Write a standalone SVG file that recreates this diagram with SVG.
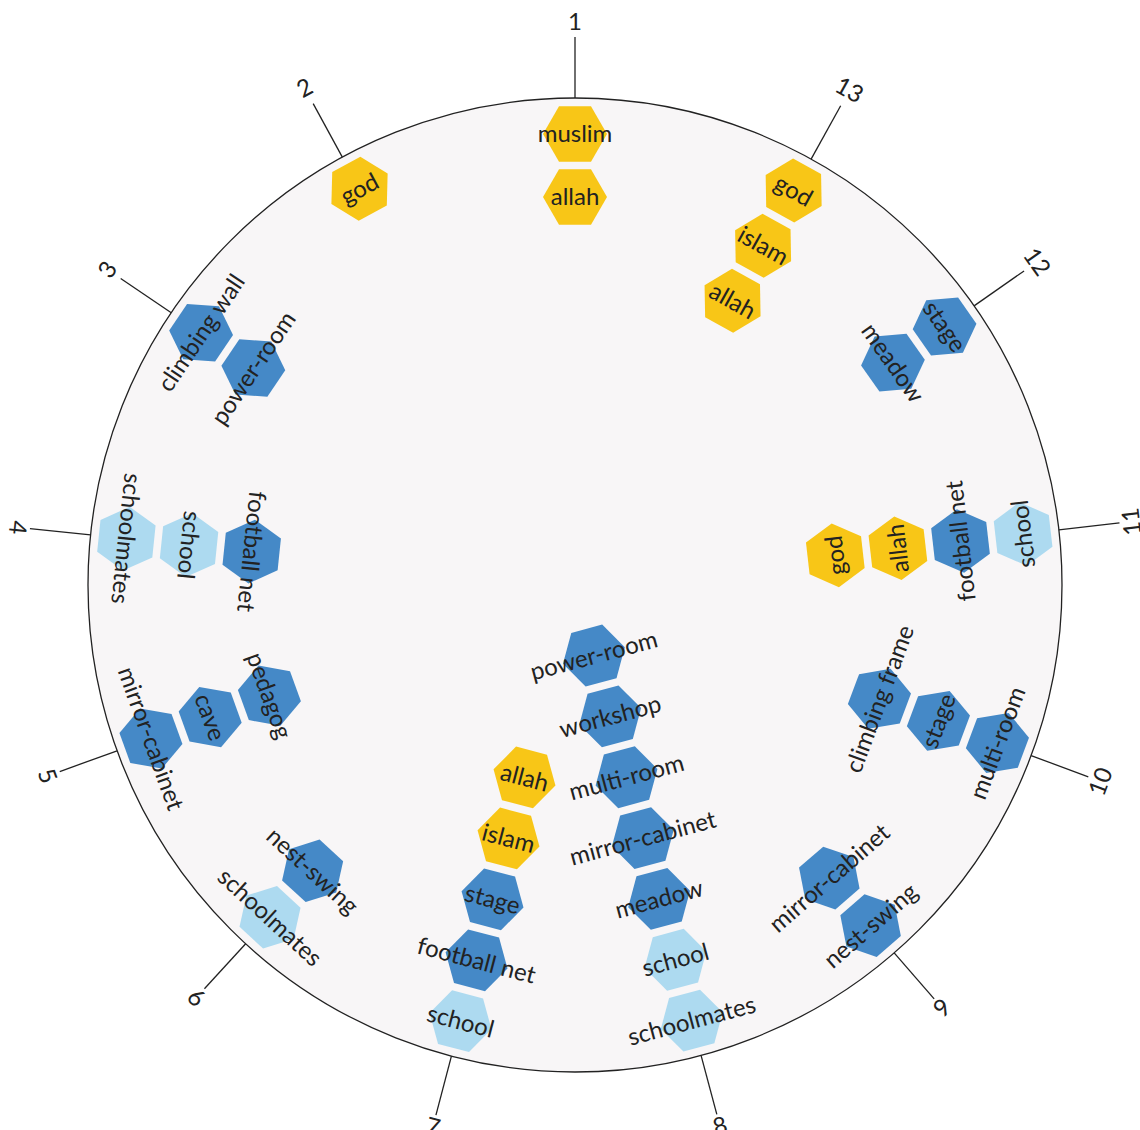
<svg xmlns="http://www.w3.org/2000/svg" width="1140" height="1130" viewBox="0 0 1140 1130">
<defs>
<polygon id="hex" points="32,0 16,27.71 -16,27.71 -32,0 -16,-27.71 16,-27.71"/>
</defs>
<style>
.g{fill:#F8C617}.b{fill:#4589C7}.lb{fill:#ADDAF0}
text{font-family:Lato,"Open Sans","Liberation Sans",sans-serif;font-size:24px;fill:#222;text-anchor:middle}
.lbl{font-size:24px}
.tick{stroke:#222;stroke-width:1.3}
</style>
<rect width="1140" height="1130" fill="#fff"/>
<circle id="ring" cx="575" cy="585" r="487" fill="#F8F6F7" stroke="#222" stroke-width="1.3"/>

<g id="ticks">
<g transform="rotate(0 575 585)"><line class="tick" x1="575" y1="98" x2="575" y2="37"/><text class="lbl" x="575" y="22" dy="0.35em">1</text></g>
<g transform="rotate(-28.54 575 585)"><line class="tick" x1="575" y1="98" x2="575" y2="37"/><text class="lbl" x="575" y="19" dy="0.35em">2</text></g>
<g transform="rotate(-56 575 585)"><line class="tick" x1="575" y1="98" x2="575" y2="37"/><text class="lbl" x="575" y="21" dy="0.35em">3</text></g>
<g transform="rotate(-84.1 575 585)"><line class="tick" x1="575" y1="98" x2="575" y2="37"/><text class="lbl" x="575" y="25" dy="0.35em" transform="rotate(180 575 25)">4</text></g>
<g transform="rotate(-109.9 575 585)"><line class="tick" x1="575" y1="98" x2="575" y2="37"/><text class="lbl" x="575" y="24" dy="0.35em" transform="rotate(180 575 24)">5</text></g>
<g transform="rotate(-137.45 575 585)"><line class="tick" x1="575" y1="98" x2="575" y2="37"/><text class="lbl" x="575" y="25" dy="0.35em" transform="rotate(180 575 25)">6</text></g>
<g transform="rotate(-165.3 575 585)"><line class="tick" x1="575" y1="98" x2="575" y2="37"/><text class="lbl" x="575" y="25" dy="0.35em" transform="rotate(180 575 25)">7</text></g>
<g transform="rotate(-195 575 585)"><line class="tick" x1="575" y1="98" x2="575" y2="37"/><text class="lbl" x="575" y="25" dy="0.35em" transform="rotate(180 575 25)">8</text></g>
<g transform="rotate(-220.95 575 585)"><line class="tick" x1="575" y1="98" x2="575" y2="37"/><text class="lbl" x="575" y="25" dy="0.35em" transform="rotate(180 575 25)">9</text></g>
<g transform="rotate(-249.5 575 585)"><line class="tick" x1="575" y1="98" x2="575" y2="37"/><text class="lbl" x="575" y="24" dy="0.35em" transform="rotate(180 575 24)">10</text></g>
<g transform="rotate(-276.5 575 585)"><line class="tick" x1="575" y1="98" x2="575" y2="37"/><text class="lbl" x="575" y="25" dy="0.35em" transform="rotate(180 575 25)">11</text></g>
<g transform="rotate(-304.97 575 585)"><line class="tick" x1="575" y1="98" x2="575" y2="37"/><text class="lbl" x="575" y="21" dy="0.35em">12</text></g>
<g transform="rotate(-331 575 585)"><line class="tick" x1="575" y1="98" x2="575" y2="37"/><text class="lbl" x="575" y="19" dy="0.35em">13</text></g>
</g>

<g id="connectors"></g>

<!-- sector 1 -->
<g id="s1-muslim" transform="rotate(0 575 585) translate(575 134)"><use href="#hex" class="g"/><text dy="0.35em">muslim</text></g>
<g id="s1-allah" transform="rotate(0 575 585) translate(575 197)"><use href="#hex" class="g"/><text dy="0.35em">allah</text></g>
<!-- sector 2 -->
<g id="s2-god" transform="rotate(-28.54 575 585) translate(575 134)"><use href="#hex" class="g"/><text dy="0.35em">god</text></g>
<!-- sector 3 -->
<g id="s3-climbing-wall" transform="rotate(-56 575 585) translate(575 134)"><use href="#hex" class="b"/><text dy="0.35em">climbing wall</text></g>
<g id="s3-power-room" transform="rotate(-56 575 585) translate(575 197)"><use href="#hex" class="b"/><text dy="0.35em">power-room</text></g>
<!-- sector 4 -->
<g id="s4-schoolmates" transform="rotate(-84.1 575 585) translate(575 134)"><use href="#hex" class="lb"/><text dy="0.35em" transform="rotate(180)">schoolmates</text></g>
<g id="s4-school" transform="rotate(-84.1 575 585) translate(575 197)"><use href="#hex" class="lb"/><text dy="0.35em" transform="rotate(180)">school</text></g>
<g id="s4-football-net" transform="rotate(-84.1 575 585) translate(575 260)"><use href="#hex" class="b"/><text dy="0.35em" transform="rotate(180)">football net</text></g>
<!-- sector 5 -->
<g id="s5-mirror-cabinet" transform="rotate(-109.9 575 585) translate(575 134)"><use href="#hex" class="b"/><text dy="0.35em" transform="rotate(180)">mirror-cabinet</text></g>
<g id="s5-cave" transform="rotate(-109.9 575 585) translate(575 197)"><use href="#hex" class="b"/><text dy="0.35em" transform="rotate(180)">cave</text></g>
<g id="s5-pedagog" transform="rotate(-109.9 575 585) translate(575 260)"><use href="#hex" class="b"/><text dy="0.35em" transform="rotate(180)">pedagog</text></g>
<!-- sector 6 -->
<g id="s6-schoolmates" transform="rotate(-137.45 575 585) translate(575 134)"><use href="#hex" class="lb"/><text dy="0.35em" transform="rotate(180)">schoolmates</text></g>
<g id="s6-nest-swing" transform="rotate(-137.45 575 585) translate(575 197)"><use href="#hex" class="b"/><text dy="0.35em" transform="rotate(180)">nest-swing</text></g>
<!-- sector 7 -->
<g id="s7-school" transform="rotate(-165.3 575 585) translate(575 134)"><use href="#hex" class="lb"/><text dy="0.35em" transform="rotate(180)">school</text></g>
<g id="s7-football-net" transform="rotate(-165.3 575 585) translate(575 197)"><use href="#hex" class="b"/><text dy="0.35em" transform="rotate(180)">football net</text></g>
<g id="s7-stage" transform="rotate(-165.3 575 585) translate(575 260)"><use href="#hex" class="b"/><text dy="0.35em" transform="rotate(180)">stage</text></g>
<g id="s7-islam" transform="rotate(-165.3 575 585) translate(575 323)"><use href="#hex" class="g"/><text dy="0.35em" transform="rotate(180)">islam</text></g>
<g id="s7-allah" transform="rotate(-165.3 575 585) translate(575 386)"><use href="#hex" class="g"/><text dy="0.35em" transform="rotate(180)">allah</text></g>
<!-- sector 8 -->
<g id="s8-schoolmates" transform="rotate(-195 575 585) translate(575 134)"><use href="#hex" class="lb"/><text dy="0.35em" transform="rotate(180)">schoolmates</text></g>
<g id="s8-school" transform="rotate(-195 575 585) translate(575 197)"><use href="#hex" class="lb"/><text dy="0.35em" transform="rotate(180)">school</text></g>
<g id="s8-meadow" transform="rotate(-195 575 585) translate(575 260)"><use href="#hex" class="b"/><text dy="0.35em" transform="rotate(180)">meadow</text></g>
<g id="s8-mirror-cabinet" transform="rotate(-195 575 585) translate(575 323)"><use href="#hex" class="b"/><text dy="0.35em" transform="rotate(180)">mirror-cabinet</text></g>
<g id="s8-multi-room" transform="rotate(-195 575 585) translate(575 386)"><use href="#hex" class="b"/><text dy="0.35em" transform="rotate(180)">multi-room</text></g>
<g id="s8-workshop" transform="rotate(-195 575 585) translate(575 449)"><use href="#hex" class="b"/><text dy="0.35em" transform="rotate(180)">workshop</text></g>
<g id="s8-power-room" transform="rotate(-195 575 585) translate(575 512)"><use href="#hex" class="b"/><text dy="0.35em" transform="rotate(180)">power-room</text></g>
<!-- sector 9 -->
<g id="s9-nest-swing" transform="rotate(-220.95 575 585) translate(575 134)"><use href="#hex" class="b"/><text dy="0.35em" transform="rotate(180)">nest-swing</text></g>
<g id="s9-mirror-cabinet" transform="rotate(-220.95 575 585) translate(575 197)"><use href="#hex" class="b"/><text dy="0.35em" transform="rotate(180)">mirror-cabinet</text></g>
<!-- sector 10 -->
<g id="s10-multi-room" transform="rotate(-249.5 575 585) translate(575 134)"><use href="#hex" class="b"/><text dy="0.35em" transform="rotate(180)">multi-room</text></g>
<g id="s10-stage" transform="rotate(-249.5 575 585) translate(575 197)"><use href="#hex" class="b"/><text dy="0.35em" transform="rotate(180)">stage</text></g>
<g id="s10-climbing-frame" transform="rotate(-249.5 575 585) translate(575 260)"><use href="#hex" class="b"/><text dy="0.35em" transform="rotate(180)">climbing frame</text></g>
<!-- sector 11 -->
<g id="s11-school" transform="rotate(-276.5 575 585) translate(575 134)"><use href="#hex" class="lb"/><text dy="0.35em" transform="rotate(180)">school</text></g>
<g id="s11-football-net" transform="rotate(-276.5 575 585) translate(575 197)"><use href="#hex" class="b"/><text dy="0.35em" transform="rotate(180)">football net</text></g>
<g id="s11-allah" transform="rotate(-276.5 575 585) translate(575 260)"><use href="#hex" class="g"/><text dy="0.35em" transform="rotate(180)">allah</text></g>
<g id="s11-god" transform="rotate(-276.5 575 585) translate(575 323)"><use href="#hex" class="g"/><text dy="0.35em" transform="rotate(180)">god</text></g>
<!-- sector 12 -->
<g id="s12-stage" transform="rotate(-304.97 575 585) translate(575 134)"><use href="#hex" class="b"/><text dy="0.35em">stage</text></g>
<g id="s12-meadow" transform="rotate(-304.97 575 585) translate(575 197)"><use href="#hex" class="b"/><text dy="0.35em">meadow</text></g>
<!-- sector 13 -->
<g id="s13-god" transform="rotate(-331 575 585) translate(575 134)"><use href="#hex" class="g"/><text dy="0.35em">god</text></g>
<g id="s13-islam" transform="rotate(-331 575 585) translate(575 197)"><use href="#hex" class="g"/><text dy="0.35em">islam</text></g>
<g id="s13-allah" transform="rotate(-331 575 585) translate(575 260)"><use href="#hex" class="g"/><text dy="0.35em">allah</text></g>
</svg>
